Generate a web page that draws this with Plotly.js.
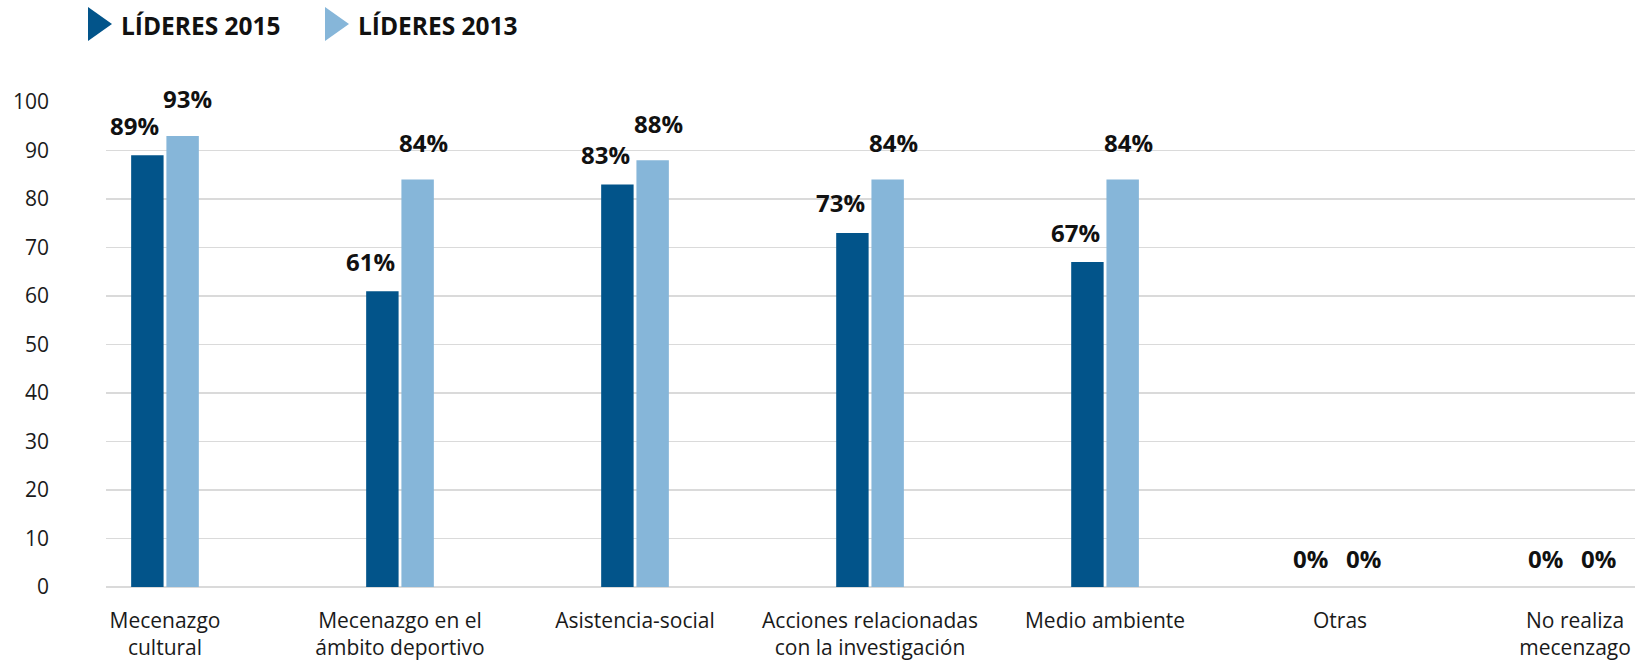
<!DOCTYPE html>
<html>
<head>
<meta charset="utf-8">
<script src="https://cdn.plot.ly/plotly-3.0.1.min.js"></script>
<style>html,body{margin:0;padding:0;background:#fff;}#chart{width:1635px;height:666px;}</style>
</head>
<body>
<div id="chart"></div>
<script>
// ---- data ----
const categories = ["Mecenazgo cultural", "Mecenazgo en el ámbito deportivo", "Asistencia-social",
  "Acciones relacionadas con la investigación", "Medio ambiente", "Otras", "No realiza mecenzago"];
const tickLabels = ["Mecenazgo<br>cultural", "Mecenazgo en el<br>ámbito deportivo", "Asistencia-social",
  "Acciones relacionadas<br>con la investigación", "Medio ambiente", "Otras", "No realiza<br>mecenzago"];
const lideres2015 = [89, 61, 83, 73, 67, 0, 0];
const lideres2013 = [93, 84, 88, 84, 84, 0, 0];
const seriesNames = ["LÍDERES 2015", "LÍDERES 2013"];
const yTicks = [0, 10, 20, 30, 40, 50, 60, 70, 80, 90, 100];

// ---- style ----
const DARK = "#02548a";
const LIGHT = "#86b6d9";
const FONT = "Open Sans, Noto Sans, sans-serif";
const W = 1635, H = 666;
const M = {l: 106, r: 0, t: 102, b: 79};
const plotW = W - M.l - M.r, plotH = H - M.t - M.b;
const pxX = px => (px - M.l) / plotW;
const pxY = py => (H - M.b - py) / plotH;

const traces = [
  {type: "bar", name: seriesNames[0], x: categories, y: lideres2015, marker: {color: DARK}, showlegend: false, hoverinfo: "y"},
  {type: "bar", name: seriesNames[1], x: categories, y: lideres2013, marker: {color: LIGHT}, showlegend: false, hoverinfo: "y"}
];

const annotations = [];
function addLabels(vals, xshift, yshift) {
  vals.forEach((v, i) => {
    annotations.push({
      x: categories[i], y: v, xref: "x", yref: "y", text: v + "%", showarrow: false,
      xanchor: "center", yanchor: "middle", xshift: xshift, yshift: v === 0 ? 29 : yshift,
      font: {family: FONT, size: 24, color: "#111", weight: 700}
    });
  });
}
addLabels(lideres2015, -30, 30);
addLabels(lideres2013, 23, 37);

// legend (custom, triangle markers)
const legendItems = [
  {name: seriesNames[0], color: DARK, tri: 88, txt: 119},
  {name: seriesNames[1], color: LIGHT, tri: 325, txt: 356}
];
const shapes = [];
legendItems.forEach(it => {
  shapes.push({type: "path", xref: "paper", yref: "paper", xsizemode: "pixel", ysizemode: "pixel",
    xanchor: pxX(it.tri), yanchor: pxY(24), path: "M0,-17 L24,0 L0,17 Z",
    fillcolor: it.color, line: {width: 0}});
  annotations.push({xref: "paper", yref: "paper", x: pxX(it.txt), y: pxY(26), xanchor: "left", yanchor: "middle",
    text: it.name, showarrow: false, font: {family: FONT, size: 24.5, color: "#111", weight: 700}});
});

const layout = {
  width: W, height: H,
  margin: M,
  paper_bgcolor: "#fff", plot_bgcolor: "#fff",
  font: {family: FONT, color: "#1a1a1a"},
  barmode: "group", bargap: 0.70, bargroupgap: 0.08,
  showlegend: false,
  xaxis: {
    type: "category", categoryorder: "array", categoryarray: categories,
    tickvals: categories, ticktext: tickLabels,
    range: [-0.251, 6.255], showgrid: false, showline: false, zeroline: false,
    ticks: "", ticklabelstandoff: 19, tickfont: {family: FONT, size: 21, color: "#1a1a1a"}
  },
  yaxis: {
    range: [0, 100], tickvals: yTicks, showgrid: true, gridcolor: "#dadada", gridwidth: 1.5,
    zeroline: true, zerolinecolor: "#dadada", zerolinewidth: 1.5, showline: false,
    ticks: "", ticklabelstandoff: 56, tickfont: {family: FONT, size: 21, color: "#1a1a1a"}
  },
  annotations: annotations,
  shapes: shapes
};

Plotly.newPlot("chart", traces, layout, {displayModeBar: false, staticPlot: true});
</script>
</body>
</html>
